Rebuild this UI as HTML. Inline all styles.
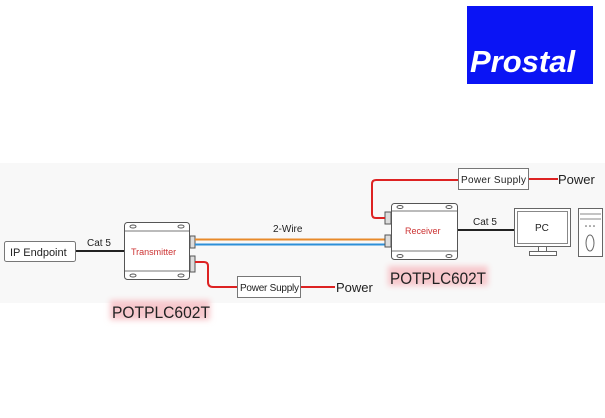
<!DOCTYPE html>
<html><head><style>
body{margin:0;background:#fff;}
.w{position:relative;width:605px;height:418px;overflow:hidden;font-family:"Liberation Sans",sans-serif;}
</style></head><body><div class="w">
<div style="position:absolute;left:0;top:163px;width:605px;height:140px;background:#f8f8f8"></div>
<div style="position:absolute;left:467px;top:6px;width:126px;height:78px;background:#0a14f5"></div>
<div style="position:absolute;left:470px;top:44px;color:#fff;font:italic bold 31px 'Liberation Sans',sans-serif;">Prostal</div>
<svg width="605" height="418" style="position:absolute;left:0;top:0" font-family="Liberation Sans, sans-serif">
<defs><filter id="g" x="-20%" y="-50%" width="140%" height="200%"><feGaussianBlur stdDeviation="3"/></filter></defs>
<rect x="4.5" y="241.5" width="71" height="20" rx="2" fill="#fff" stroke="#777"/>
<text x="10" y="256" font-size="11" fill="#222">IP  Endpoint</text>
<line x1="76" y1="251" x2="124" y2="251" stroke="#222" stroke-width="2"/>
<text x="87" y="246" font-size="10" fill="#222">Cat 5</text>
<rect x="124.5" y="222.5" width="65" height="57" rx="3" fill="#fff" stroke="#555"/>
<line x1="125" y1="231" x2="189" y2="231" stroke="#777"/><line x1="125" y1="271" x2="189" y2="271" stroke="#777"/>
<ellipse cx="133" cy="226.5" rx="3" ry="1.5" fill="none" stroke="#555"/><ellipse cx="181" cy="226.5" rx="3" ry="1.5" fill="none" stroke="#555"/>
<ellipse cx="133" cy="275.5" rx="3" ry="1.5" fill="none" stroke="#555"/><ellipse cx="181" cy="275.5" rx="3" ry="1.5" fill="none" stroke="#555"/>
<text x="131" y="255" font-size="9" fill="#c33">Transmitter</text>
<rect x="190" y="236" width="5" height="12" fill="#ddd" stroke="#555"/>
<rect x="190" y="256" width="5" height="16" fill="#ddd" stroke="#555"/>
<line x1="195" y1="239.5" x2="385" y2="239.5" stroke="#e88a2a" stroke-width="2"/>
<line x1="195" y1="244.5" x2="385" y2="244.5" stroke="#2d8fd8" stroke-width="2"/>
<text x="273" y="232" font-size="10" fill="#222">2-Wire</text>
<path d="M195 262 H204 Q208 262 208 266 V282 Q208 287 213 287 H237" fill="none" stroke="#d22" stroke-width="2"/>
<rect x="237.5" y="276.5" width="63" height="21" fill="#fff" stroke="#777"/>
<text x="240" y="291" font-size="10" fill="#222" textLength="59">Power Supply</text>
<line x1="301" y1="287" x2="335" y2="287" stroke="#d22" stroke-width="2"/>
<text x="336" y="292" font-size="13" fill="#222">Power</text>
<rect x="110" y="300" width="100" height="20" fill="#f7c8cc" filter="url(#g)"/>
<text x="112" y="318" font-size="17" fill="#222" textLength="98" lengthAdjust="spacingAndGlyphs">POTPLC602T</text>
<rect x="391.5" y="203.5" width="66" height="56" rx="3" fill="#fff" stroke="#555"/>
<line x1="392" y1="211" x2="457" y2="211" stroke="#777"/><line x1="392" y1="251" x2="457" y2="251" stroke="#777"/>
<ellipse cx="400" cy="207" rx="3" ry="1.5" fill="none" stroke="#555"/><ellipse cx="449" cy="207" rx="3" ry="1.5" fill="none" stroke="#555"/>
<ellipse cx="400" cy="256" rx="3" ry="1.5" fill="none" stroke="#555"/><ellipse cx="449" cy="256" rx="3" ry="1.5" fill="none" stroke="#555"/>
<text x="405" y="234" font-size="9" fill="#c33">Receiver</text>
<rect x="385" y="212" width="6" height="12" fill="#ddd" stroke="#555"/>
<rect x="385" y="235" width="6" height="12" fill="#ddd" stroke="#555"/>
<path d="M385 218 H376 Q372 218 372 214 V184 Q372 180 376 180 H458" fill="none" stroke="#d22" stroke-width="2"/>
<rect x="458.5" y="168.5" width="70" height="21" fill="#fff" stroke="#777"/>
<text x="461" y="183" font-size="10" fill="#222" textLength="65">Power Supply</text>
<line x1="529" y1="179" x2="558" y2="179" stroke="#d22" stroke-width="2"/>
<text x="558" y="184" font-size="13" fill="#222">Power</text>
<line x1="458" y1="230" x2="514" y2="230" stroke="#222" stroke-width="2"/>
<text x="473" y="225" font-size="10" fill="#222">Cat 5</text>
<rect x="514.5" y="208.5" width="56" height="38" fill="#fff" stroke="#666"/>
<rect x="517.5" y="211.5" width="50" height="32" fill="#fff" stroke="#888"/>
<text x="535" y="231" font-size="10" fill="#222">PC</text>
<rect x="538.5" y="246.5" width="8" height="5" fill="#fff" stroke="#666"/>
<rect x="529.5" y="251.5" width="27" height="4" fill="#fff" stroke="#666"/>
<rect x="578.5" y="208.5" width="24" height="48" fill="#fff" stroke="#666"/>
<line x1="580" y1="214" x2="601" y2="214" stroke="#888"/><line x1="580" y1="219" x2="601" y2="219" stroke="#888"/>
<ellipse cx="590" cy="243" rx="4" ry="8" fill="none" stroke="#666"/>
<circle cx="586" cy="226" r=".8" fill="#555"/><circle cx="590" cy="226" r=".8" fill="#555"/><circle cx="594" cy="226" r=".8" fill="#555"/>
<rect x="388" y="266" width="100" height="20" fill="#f7c8cc" filter="url(#g)"/>
<text x="390" y="284" font-size="17" fill="#222" textLength="96" lengthAdjust="spacingAndGlyphs">POTPLC602T</text>
</svg>
</div></body></html>
